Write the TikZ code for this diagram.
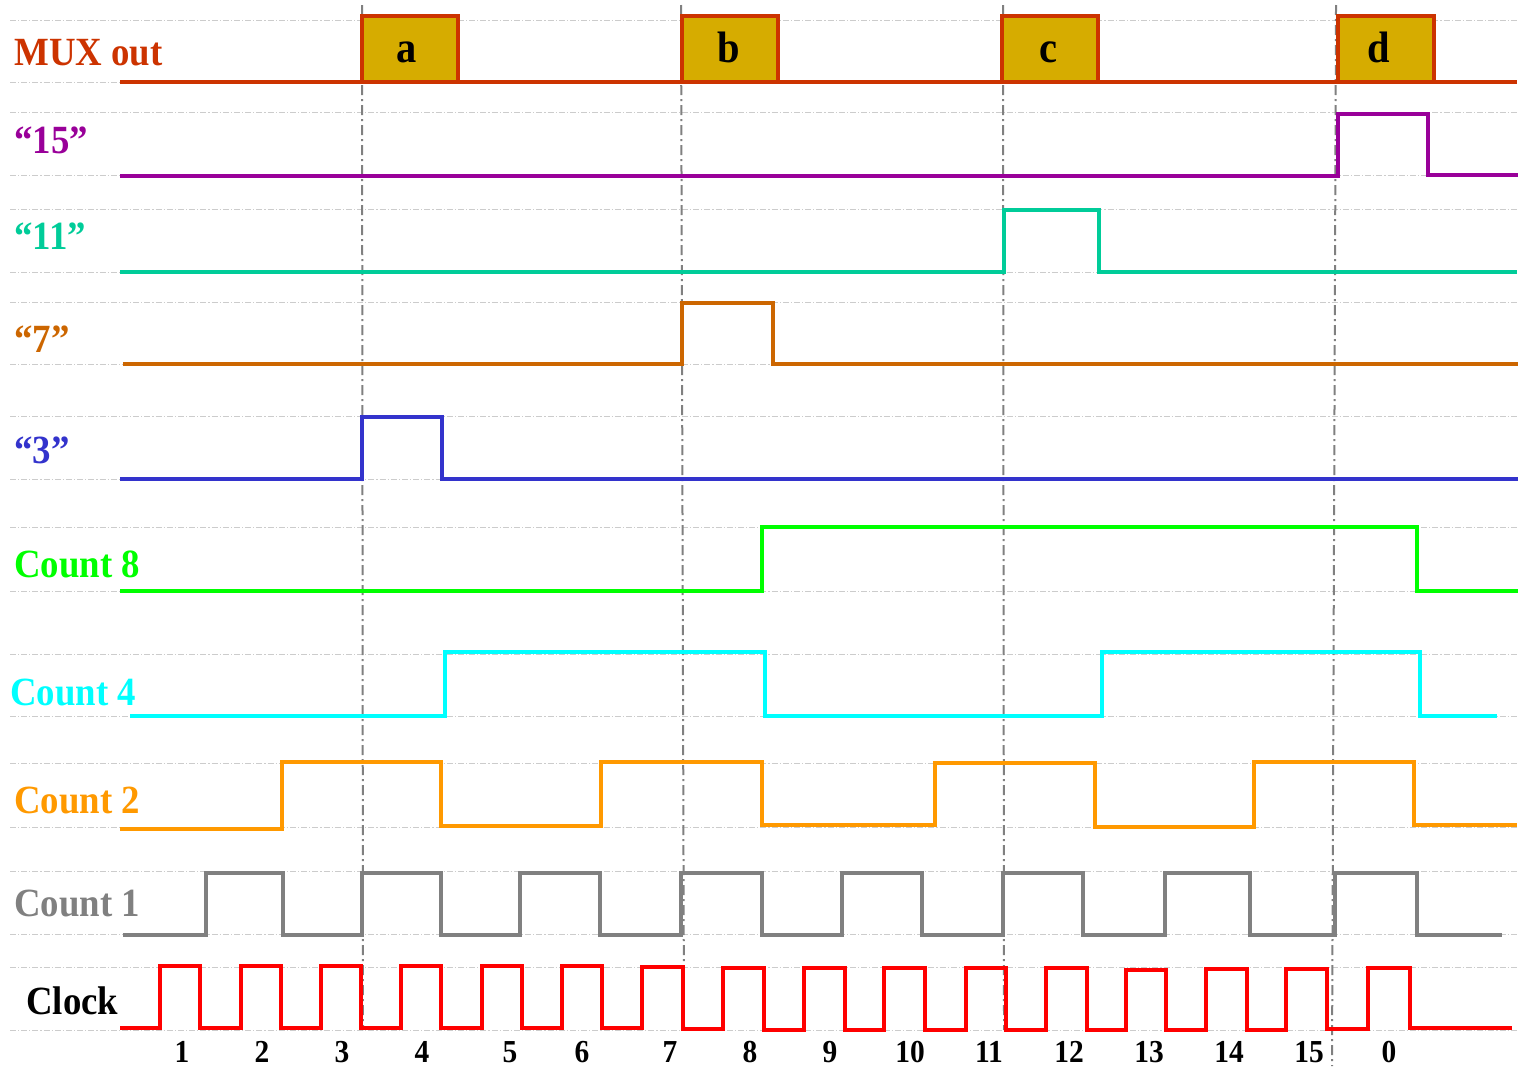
\documentclass[tikz,border=0pt]{standalone}
\usepackage{fontspec}
\setmainfont{Liberation Serif}
\usetikzlibrary{positioning}

\definecolor{muxred}{HTML}{CC3300}
\definecolor{muxfill}{HTML}{D6AC00}
\definecolor{sigpurple}{HTML}{990099}
\definecolor{sigteal}{HTML}{00CC99}
\definecolor{sigbrown}{HTML}{CC6600}
\definecolor{sigblue}{HTML}{3333CC}
\definecolor{cntgreen}{HTML}{00FF00}
\definecolor{cntcyan}{HTML}{00FFFF}
\definecolor{cntorange}{HTML}{FF9900}
\definecolor{cntgray}{HTML}{808080}
\definecolor{clkred}{HTML}{FF0000}
\definecolor{guidegray}{HTML}{CCCCCC}

\newcommand{\narrow}[1]{\scalebox{0.92}[1]{#1}}

\begin{document}
\begin{tikzpicture}[x=0.5pt,y=-0.5pt]
\tikzset{
  guide/.style={draw=guidegray,line width=0.5pt,dash pattern=on 3pt off 1pt on 0.6pt off 1pt},
  marker/.style={draw=cntgray,line width=1pt,dash pattern=on 5pt off 2pt on 1pt off 2pt},
  wave/.style={line width=1.9pt,line cap=rect,line join=miter},
  siglabel/.style={anchor=base west,inner sep=0pt,font=\fontsize{20}{24}\selectfont\bfseries},
  muxbox/.style={draw=muxred,fill=muxfill,line width=2pt,minimum width=48pt,minimum height=33pt,inner sep=0pt},
  boxletter/.style={anchor=base,inner sep=0pt,font=\fontsize{22}{26}\selectfont\bfseries},
  ticknum/.style={anchor=base,inner sep=0pt,font=\fontsize{16}{19}\selectfont\bfseries}
}
\useasboundingbox (0,0) rectangle (1518,1066);
% guide lines
\draw[guide] (10,20) -- (1518,20);
\draw[guide] (10,82) -- (1518,82);
\draw[guide] (10,112) -- (1518,112);
\draw[guide] (10,175) -- (1518,175);
\draw[guide] (10,209) -- (1518,209);
\draw[guide] (10,272) -- (1518,272);
\draw[guide] (10,302) -- (1518,302);
\draw[guide] (10,364) -- (1518,364);
\draw[guide] (10,416) -- (1518,416);
\draw[guide] (10,479) -- (1518,479);
\draw[guide] (10,527) -- (1518,527);
\draw[guide] (10,591) -- (1518,591);
\draw[guide] (10,654) -- (1518,654);
\draw[guide] (10,716) -- (1518,716);
\draw[guide] (10,763) -- (1518,763);
\draw[guide] (10,827) -- (1518,827);
\draw[guide] (10,871) -- (1518,871);
\draw[guide] (10,934) -- (1518,934);
\draw[guide] (10,967) -- (1518,967);
\draw[guide] (10,1030) -- (1518,1030);
% sampling markers
\draw[marker] (362,5) -- (363,1030);
\draw[marker] (681,5) -- (684,1030);
\draw[marker] (1003,5) -- (1004,1030);
\draw[marker] (1336,5) -- (1332,1066);
% labels
\node[siglabel,text=muxred] (lbl_mux) at (14,65) {\narrow{MUX out}};
\node[siglabel,text=sigpurple] (lbl_15) at (14,153) {\narrow{“15”}};
\node[siglabel,text=sigteal] (lbl_11) at (14,249) {\narrow{“11”}};
\node[siglabel,text=sigbrown] (lbl_7) at (14,352) {\narrow{“7”}};
\node[siglabel,text=sigblue] (lbl_3) at (14,463) {\narrow{“3”}};
\node[siglabel,text=cntgreen] (lbl_c8) at (14,577) {\narrow{Count 8}};
\node[siglabel,text=cntcyan] (lbl_c4) at (10,705) {\narrow{Count 4}};
\node[siglabel,text=cntorange] (lbl_c2) at (14,813) {\narrow{Count 2}};
\node[siglabel,text=cntgray] (lbl_c1) at (14,916) {\narrow{Count 1}};
\node[siglabel,text=black] (lbl_clk) at (26,1014) {\narrow{Clock}};
% waveforms
\draw[wave,muxred] (122,82) -- (1515,82);
\draw[wave,sigpurple] (122,176) -- (1338,176) -- (1338,114) -- (1428,114) -- (1428,175) -- (1518,175);
\draw[wave,sigteal] (122,272) -- (1004,272) -- (1004,210) -- (1099,210) -- (1099,272) -- (1515,272);
\draw[wave,sigbrown] (125,364) -- (682,364) -- (682,303) -- (773,303) -- (773,364) -- (1518,364);
\draw[wave,sigblue] (122,479) -- (362,479) -- (362,417) -- (442,417) -- (442,479) -- (1518,479);
\draw[wave,cntgreen] (122,591) -- (762,591) -- (762,527) -- (1417,527) -- (1417,591) -- (1518,591);
\draw[wave,cntcyan] (132,716) -- (445,716) -- (445,652) -- (765,652) -- (765,716) -- (1102,716)
  -- (1102,652) -- (1420,652) -- (1420,716) -- (1495,716);
\draw[wave,cntorange] (122,829) -- (282,829) -- (282,762) -- (441,762) -- (441,826) -- (601,826)
  -- (601,762) -- (762,762) -- (762,825) -- (935,825) -- (935,763) -- (1095,763) -- (1095,827)
  -- (1254,827) -- (1254,762) -- (1414,762) -- (1414,825) -- (1515,825);
\draw[wave,cntgray] (125,935) -- (206,935) -- (206,873) -- (283,873) -- (283,935) -- (362,935)
  -- (362,873) -- (441,873) -- (441,935) -- (520,935) -- (520,873) -- (600,873) -- (600,935)
  -- (681,935) -- (681,873) -- (762,873) -- (762,935) -- (842,935) -- (842,873) -- (922,873)
  -- (922,935) -- (1003,935) -- (1003,873) -- (1083,873) -- (1083,935) -- (1165,935)
  -- (1165,873) -- (1250,873) -- (1250,935) -- (1335,935) -- (1335,873) -- (1417,873)
  -- (1417,935) -- (1500,935);
\draw[wave,clkred] (122,1028) -- (160,1028) -- (160,966) -- (200,966) -- (200,1028)
  -- (241,1028) -- (241,966) -- (281,966) -- (281,1028) -- (321,1028) -- (321,966)
  -- (361,966) -- (361,1028) -- (401,1028) -- (401,966) -- (441,966) -- (441,1028)
  -- (482,1028) -- (482,966) -- (522,966) -- (522,1028) -- (562,1028) -- (562,966)
  -- (602,966) -- (602,1028) -- (642,1028) -- (642,967) -- (683,967) -- (683,1029)
  -- (723,1029) -- (723,968) -- (764,968) -- (764,1030) -- (804,1030) -- (804,968)
  -- (845,968) -- (845,1030) -- (884,1030) -- (884,968) -- (925,968) -- (925,1030)
  -- (966,1030) -- (966,968) -- (1006,968) -- (1006,1030) -- (1046,1030) -- (1046,968)
  -- (1087,968) -- (1087,1030) -- (1126,1030) -- (1126,970) -- (1166,970) -- (1166,1030)
  -- (1206,1030) -- (1206,969) -- (1247,969) -- (1247,1030) -- (1286,1030) -- (1286,969)
  -- (1327,969) -- (1327,1029) -- (1368,1029) -- (1368,968) -- (1410,968) -- (1410,1028)
  -- (1510,1028);
% MUX output slots
\node[muxbox] (box_a) at (410,49) {};
\node[muxbox] (box_b) at (729.5,49) {};
\node[muxbox] (box_c) at (1050,49) {};
\node[muxbox] (box_d) at (1386,49) {};
\node[boxletter] (let_a) at (407,62) {\narrow{a}};
\node[boxletter] (let_b) at (729,62) {\narrow{b}};
\node[boxletter] (let_c) at (1048,62) {\narrow{c}};
\node[boxletter] (let_d) at (1379,62) {\narrow{d}};
% clock numbers
\node[ticknum] (num_1) at (182,1062) {\narrow{1}};
\node[ticknum] (num_2) at (262,1062) {\narrow{2}};
\node[ticknum] (num_3) at (342,1062) {\narrow{3}};
\node[ticknum] (num_4) at (422,1062) {\narrow{4}};
\node[ticknum] (num_5) at (510,1062) {\narrow{5}};
\node[ticknum] (num_6) at (582,1062) {\narrow{6}};
\node[ticknum] (num_7) at (670,1062) {\narrow{7}};
\node[ticknum] (num_8) at (750,1062) {\narrow{8}};
\node[ticknum] (num_9) at (830,1062) {\narrow{9}};
\node[ticknum] (num_10) at (910,1062) {\narrow{10}};
\node[ticknum] (num_11) at (989,1062) {\narrow{11}};
\node[ticknum] (num_12) at (1069,1062) {\narrow{12}};
\node[ticknum] (num_13) at (1149,1062) {\narrow{13}};
\node[ticknum] (num_14) at (1229,1062) {\narrow{14}};
\node[ticknum] (num_15) at (1309,1062) {\narrow{15}};
\node[ticknum] (num_0) at (1389,1062) {\narrow{0}};
\end{tikzpicture}
\end{document}
